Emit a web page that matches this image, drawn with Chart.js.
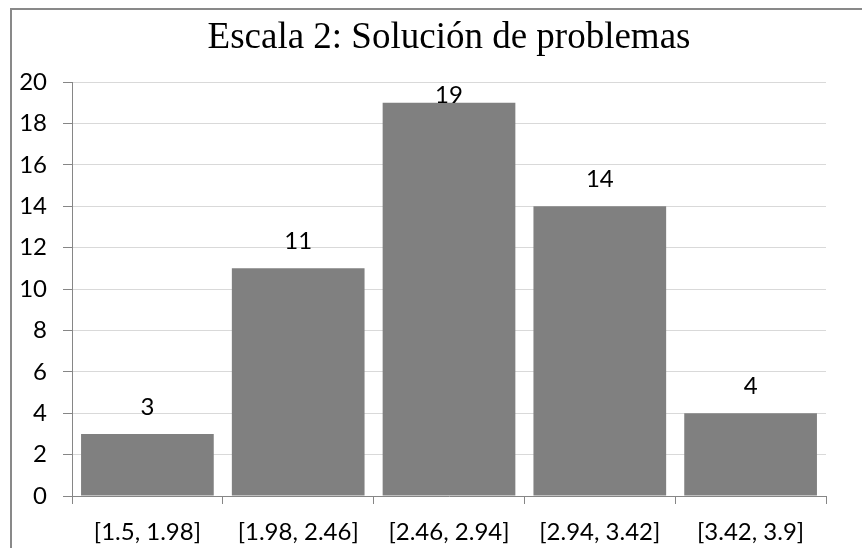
<!DOCTYPE html>
<html lang="es">
<head>
<meta charset="utf-8">
<title>Escala 2: Solución de problemas</title>
<script src="https://cdn.jsdelivr.net/npm/chart.js@4/dist/chart.umd.min.js"></script>
<style>
  html, body { margin: 0; padding: 0; background: #ffffff; overflow: hidden; }
  #wrap { position: relative; width: 862px; height: 548px; }
  #frame {
    position: absolute; left: 10px; top: 8px; width: 1200px; height: 900px;
    border: 2px solid #898989; box-sizing: border-box; pointer-events: none;
  }
  canvas { position: absolute; left: 0; top: 0; }
</style>
</head>
<body>
<div id="wrap">
  <canvas id="chart" width="862" height="548"></canvas>
  <div id="frame"></div>
</div>
<script>
// Intervalos de puntaje y frecuencias
const categories = ['[1.5, 1.98]', '[1.98, 2.46]', '[2.46, 2.94]', '[2.94, 3.42]', '[3.42, 3.9]'];
const frequencies = [3, 11, 19, 14, 4];
const yTicks = [0, 2, 4, 6, 8, 10, 12, 14, 16, 18, 20];
const chartTitle = 'Escala 2: Solución de problemas';

const labelFont = "Lato, 'Open Sans', sans-serif";

// Título centrado sobre el área de trazado
const plotTitle = {
  id: 'plotTitle',
  afterDraw(chart) {
    const ctx = chart.ctx;
    const area = chart.chartArea;
    ctx.save();
    ctx.font = "37px 'Liberation Serif', 'Times New Roman', serif";
    ctx.fillStyle = '#000000';
    ctx.textAlign = 'center';
    ctx.textBaseline = 'alphabetic';
    ctx.fillText(chartTitle, (area.left + area.right) / 2, 48);
    ctx.restore();
  }
};

// Etiquetas de valor encima de cada barra, sin salir del área del gráfico
const valueLabels = {
  id: 'valueLabels',
  afterDatasetsDraw(chart) {
    const ctx = chart.ctx;
    const meta = chart.getDatasetMeta(0);
    const area = chart.chartArea;
    ctx.save();
    ctx.font = '24px ' + labelFont;
    ctx.fillStyle = '#000000';
    ctx.textAlign = 'center';
    ctx.textBaseline = 'alphabetic';
    meta.data.forEach((bar, i) => {
      const y = Math.max(bar.y - 19, area.top + 21);
      ctx.fillText(String(frequencies[i]), bar.x, y);
    });
    ctx.restore();
  }
};

new Chart(document.getElementById('chart'), {
  type: 'bar',
  data: {
    labels: categories,
    datasets: [{
      data: frequencies,
      backgroundColor: '#808080',
      borderWidth: 0,
      categoryPercentage: 0.88,
      barPercentage: 1.0
    }]
  },
  options: {
    responsive: false,
    animation: false,
    devicePixelRatio: 1,
    layout: { padding: { left: 12, right: 36, top: 82, bottom: 0 } },
    plugins: {
      legend: { display: false },
      tooltip: { enabled: false },
      title: { display: false }
    },
    scales: {
      x: {
        grid: {
          offset: true,
          drawOnChartArea: false,
          drawTicks: true,
          tickLength: 8,
          color: '#868686',
          lineWidth: 1
        },
        border: { color: '#868686', width: 1 },
        ticks: {
          color: '#000000',
          font: { family: labelFont, size: 24, lineHeight: 1.2 },
          padding: 14,
          maxRotation: 0,
          autoSkip: false
        },
        afterFit(scale) { scale.height = 52; }
      },
      y: {
        min: 0,
        max: 20,
        afterBuildTicks(scale) { scale.ticks = yTicks.map(v => ({ value: v })); },
        grid: {
          color: '#d9d9d9',
          tickColor: '#868686',
          tickLength: 9,
          lineWidth: 1
        },
        border: { color: '#868686', width: 1 },
        ticks: {
          color: '#000000',
          font: { family: labelFont, size: 24, lineHeight: 1.2 },
          padding: 16
        },
        afterFit(scale) { scale.width = 60; }
      }
    }
  },
  plugins: [valueLabels, plotTitle]
});
</script>
</body>
</html>
